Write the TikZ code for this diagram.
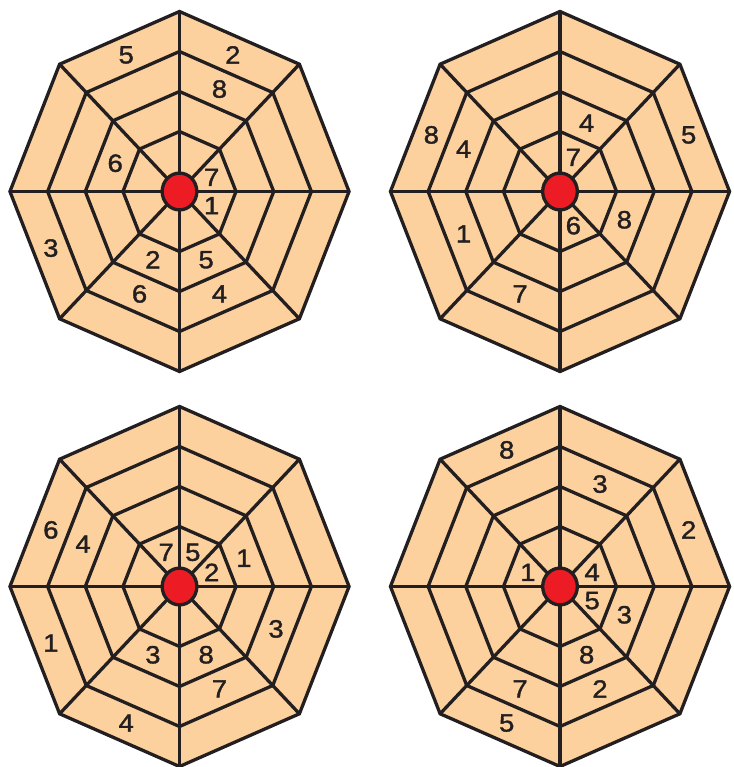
\documentclass[tikz,border=0pt]{standalone}
\usepackage{fontspec}
\setmainfont{Liberation Sans}
\definecolor{peach}{HTML}{FDD19E}
\definecolor{dotred}{HTML}{ED1C24}
\definecolor{ink}{HTML}{231F20}
\newfontfamily\labfont[FakeStretch=1.1, FakeBold=1.5]{Liberation Sans}
\tikzset{
  web/.style={draw=ink, line width=3.3pt, line join=miter},
  cellfill/.style={fill=peach},
  hub/.style={fill=dotred, draw=ink, line width=3.3pt},
  lab/.style={text=ink, inner sep=0pt, font=\labfont\fontsize{25pt}{25pt}\selectfont}
}
\newcommand\octweb[4]{%
  \begin{scope}[shift={(#1pt,-#2pt)}, x=37.68pt, y=40pt]
    \fill[cellfill] (0:4.5) \foreach \a in {45,90,...,315}{ -- (\a:4.5)} -- cycle;
    \foreach \r in {1.5,2.5,3.5,4.5}
      \draw[web] (0:\r) \foreach \a in {45,90,...,315}{ -- (\a:\r)} -- cycle;
    \foreach \a in {0,45,...,315}
      \draw[web] (0,0) -- (\a:4.5);
    \path[hub] (0,0) circle [x radius=0.46, y radius=0.46];
    \foreach \ang/\ring/\txt [count=\i] in {#4}
      \node[lab] (#3l\i) at (\ang:{0.924*\ring}) {\txt};
  \end{scope}}
\begin{document}
\begin{tikzpicture}
\useasboundingbox (0pt,0pt) rectangle (733pt,-767pt);
\octweb{179.5}{191.5}{a}{112.5/4/5, 67.5/4/2, 67.5/3/8, 157.5/2/6, 22.5/1/7, 337.5/1/1, 202.5/4/3, 247.5/2/2, 292.5/2/5, 247.5/3/6, 292.5/3/4}
\octweb{560}{191.5}{b}{157.5/4/8, 157.5/3/4, 67.5/2/4, 67.5/1/7, 22.5/4/5, 337.5/2/8, 292.5/1/6, 202.5/3/1, 247.5/3/7}
\octweb{179.5}{586.5}{c}{157.5/4/6, 157.5/3/4, 112.5/1/7, 67.5/1/5, 22.5/1/2, 22.5/2/1, 337.5/3/3, 202.5/4/1, 247.5/2/3, 292.5/2/8, 292.5/3/7, 247.5/4/4}
\octweb{560}{586.5}{d}{112.5/4/8, 67.5/3/3, 22.5/4/2, 157.5/1/1, 22.5/1/4, 337.5/1/5, 337.5/2/3, 292.5/2/8, 247.5/3/7, 292.5/3/2, 247.5/4/5}
\end{tikzpicture}
\end{document}
